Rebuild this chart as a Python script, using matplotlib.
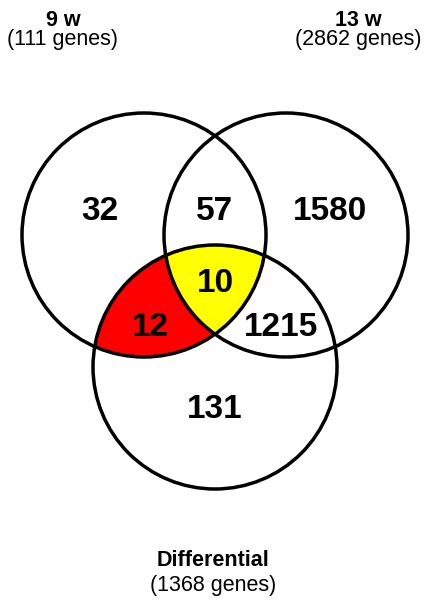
import numpy as np
import matplotlib
matplotlib.use("Agg")
import matplotlib.pyplot as plt
from matplotlib.patches import Circle, Polygon

plt.rcParams['font.family'] = ['Liberation Sans', 'DejaVu Sans']

# Data
set_names = ["9 w", "13 w", "Differential"]
set_totals = [111, 2862, 1368]
region_keys = ["100", "110", "010", "111", "101", "011", "001"]
region_counts = [32, 57, 1580, 10, 12, 1215, 131]

# Layout (pixel coordinates)
W, H = 425, 602
centers = [(144, 235), (286, 235), (215, 367)]
radius = 122

fig = plt.figure(figsize=(W / 100, H / 100), dpi=100)
ax = fig.add_axes([0, 0, 1, 1])
ax.set_xlim(0, W)
ax.set_ylim(H, 0)
ax.set_aspect('equal')
ax.axis('off')


def intersection_polygon(idx):
    pts = []
    t = np.linspace(0, 2 * np.pi, 2000)
    for i in idx:
        cx, cy = centers[i]
        px = cx + radius * np.cos(t)
        py = cy + radius * np.sin(t)
        ok = np.ones_like(px, dtype=bool)
        for j in idx:
            if j == i:
                continue
            ox, oy = centers[j]
            ok &= (px - ox) ** 2 + (py - oy) ** 2 <= radius ** 2 + 1e-6
        pts.append(np.column_stack([px[ok], py[ok]]))
    pts = np.vstack(pts)
    c = pts.mean(axis=0)
    ang = np.arctan2(pts[:, 1] - c[1], pts[:, 0] - c[0])
    return pts[np.argsort(ang)]


# Red: 9 w ∩ Differential (then yellow triple overlay)
ax.add_patch(Polygon(intersection_polygon([0, 2]), closed=True, facecolor='#FF0000', edgecolor='none', zorder=1))
ax.add_patch(Polygon(intersection_polygon([0, 1, 2]), closed=True, facecolor='#FFFF00', edgecolor='none', zorder=2))

for c in centers:
    ax.add_patch(Circle(c, radius, facecolor='none', edgecolor='black', linewidth=2.5, zorder=3))

label_pos = {"100": (100, 212), "110": (215, 212), "010": (330, 212),
             "111": (215, 283), "101": (150, 328), "011": (281, 328), "001": (215, 410)}
for k, v in zip(region_keys, region_counts):
    x, y = label_pos[k]
    ax.text(x, y, str(v), ha='center', va='center', fontsize=24, fontweight='bold', zorder=4)

title_pos = [(63, 20, 40), (358, 20, 40), (213, 560, 585)]
for name, tot, (x, y1, y2) in zip(set_names, set_totals, title_pos):
    ax.text(x, y1, name, ha='center', va='center', fontsize=15.5, fontweight='bold')
    ax.text(x, y2, f"({tot} genes)", ha='center', va='center', fontsize=15.5)

fig.savefig("out.png", dpi=100)
